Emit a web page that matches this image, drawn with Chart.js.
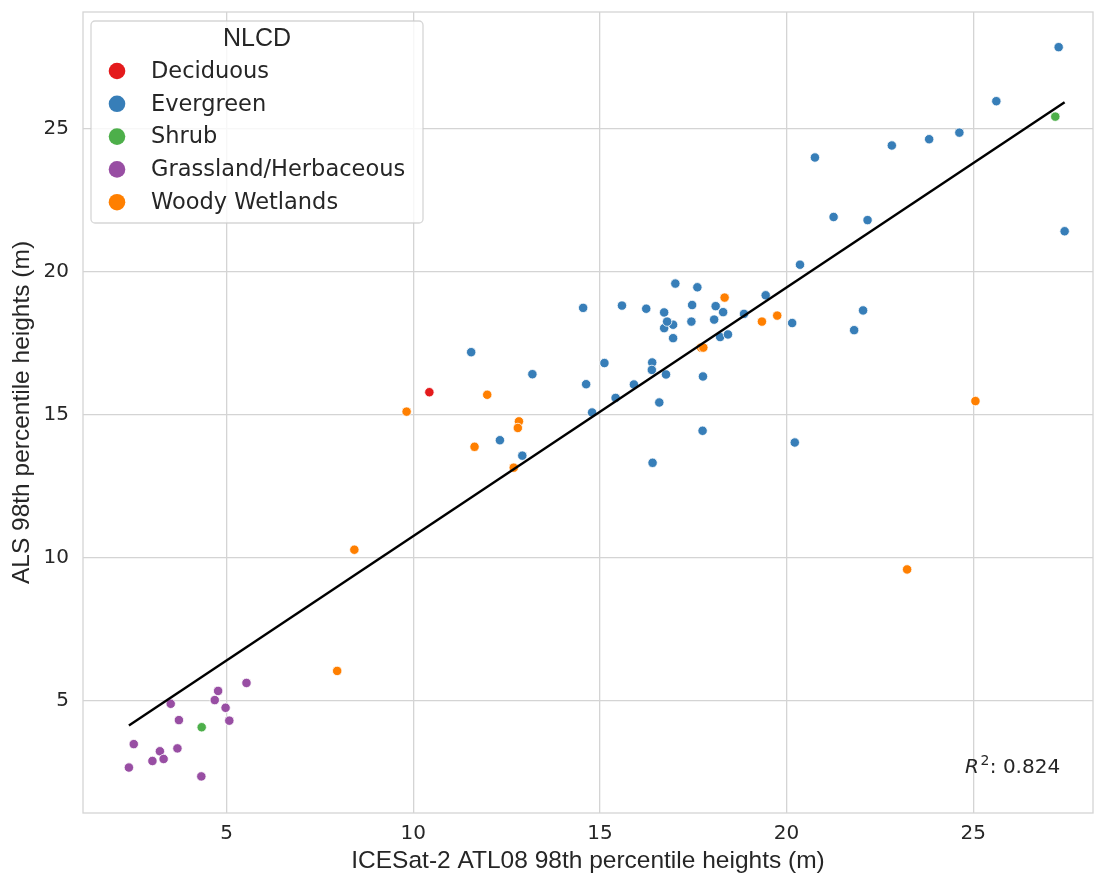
<!DOCTYPE html>
<html>
<head>
<meta charset="utf-8">
<script src="https://cdn.jsdelivr.net/npm/chart.js@4.4.1/dist/chart.umd.min.js"></script>
<style>
  html, body { margin: 0; padding: 0; background: #ffffff; }
  #wrap { width: 1105px; height: 879px; }
</style>
</head>
<body>
<div id="wrap"><canvas id="c" width="1105" height="879"></canvas></div>
<script>
// ICESat-2 ATL08 vs ALS 98th percentile canopy heights (m), grouped by NLCD class
const deciduousX = [10.43];
const deciduousY = [15.78];

const evergreenX = [11.55, 13.19, 14.79, 12.32, 12.92, 20.36, 17.02, 17.61, 19.44, 14.55,
                    15.59, 16.24, 16.72, 17.47, 18.10, 18.30, 18.86, 20.15, 21.81, 22.05,
                    17.45, 18.06, 16.96, 16.72, 16.80, 16.96, 18.22, 18.43, 15.12, 16.40,
                    16.39, 16.77, 17.76, 14.63, 15.91, 15.42, 16.59, 17.75, 20.22, 16.41,
                    27.29, 25.62, 24.63, 23.82, 22.82, 20.76, 21.26, 22.17, 27.45];
const evergreenY = [17.18, 16.41, 15.07, 14.10, 13.56, 20.24, 19.58, 19.45, 19.17, 18.73,
                    18.81, 18.70, 18.57, 18.83, 18.79, 18.58, 18.52, 18.20, 17.95, 18.64,
                    18.25, 18.32, 18.14, 18.02, 18.25, 17.67, 17.71, 17.80, 16.80, 16.82,
                    16.56, 16.40, 16.33, 16.06, 16.05, 15.58, 15.42, 14.43, 14.02, 13.31,
                    27.85, 25.96, 24.86, 24.63, 24.41, 23.99, 21.91, 21.80, 21.41];

const shrubX = [4.33, 27.20];
const shrubY = [4.06, 25.42];

const grassX = [5.53, 4.77, 4.68, 3.50, 4.97, 3.72, 5.07, 2.51, 3.21, 3.68, 3.31, 3.01, 2.38, 4.32];
const grassY = [5.61, 5.33, 5.01, 4.88, 4.74, 4.31, 4.29, 3.47, 3.22, 3.32, 2.95, 2.88, 2.65, 2.34];

const wetlandX = [7.96, 11.98, 9.82, 12.83, 12.80, 11.64, 12.69, 8.42, 18.34, 19.75,
                  19.34, 17.71, 17.77, 25.06, 23.23];
const wetlandY = [6.03, 15.69, 15.10, 14.76, 14.53, 13.87, 13.14, 10.27, 19.09, 18.46,
                  18.25, 17.34, 17.34, 15.47, 9.58];

// least-squares fit line, drawn between the smallest and largest ATL08 heights
const fitX = [2.38, 27.45];
const fitY = [4.12, 25.92];
const r2Text = '0.824';

const classNames = ['Deciduous', 'Evergreen', 'Shrub', 'Grassland/Herbaceous', 'Woody Wetlands'];
const classColors = ['#e41a1c', '#377eb8', '#4daf4a', '#984ea3', '#ff7f00'];

const xTicks = [5, 10, 15, 20, 25];
const yTicks = [5, 10, 15, 20, 25];

const TEXT = '#262626';
const GRID = '#d4d4d4';

function pts(xs, ys) { return xs.map((x, i) => ({ x: x, y: ys[i] })); }

const groups = [
  [deciduousX, deciduousY],
  [evergreenX, evergreenY],
  [shrubX, shrubY],
  [grassX, grassY],
  [wetlandX, wetlandY]
];

const datasets = groups.map((g, i) => ({
  type: 'scatter',
  label: classNames[i],
  data: pts(g[0], g[1]),
  backgroundColor: classColors[i],
  borderColor: '#ffffff',
  borderWidth: 0.8,
  pointRadius: 4.7,
  pointHoverRadius: 4.7
}));

datasets.push({
  type: 'line',
  label: 'fit',
  data: pts(fitX, fitY),
  borderColor: '#000000',
  borderWidth: 2.4,
  pointRadius: 0,
  fill: false,
  order: -1
});

// frame around the plotting area (all four spines)
const framePlugin = {
  id: 'frame',
  beforeDatasetsDraw(chart) {
    const { ctx, chartArea: a } = chart;
    ctx.save();
    ctx.strokeStyle = GRID;
    ctx.lineWidth = 1.3;
    ctx.strokeRect(a.left, a.top, a.right - a.left, a.bottom - a.top);
    ctx.restore();
  }
};

// R² annotation in the lower right corner
const r2Plugin = {
  id: 'r2',
  afterDatasetsDraw(chart) {
    const { ctx, chartArea: a } = chart;
    let x = a.right - 128;
    const base = a.bottom - 40;
    ctx.save();
    ctx.fillStyle = TEXT;
    ctx.textBaseline = 'alphabetic';
    ctx.textAlign = 'left';
    ctx.font = 'italic 20px "DejaVu Sans"';
    ctx.fillText('R', x, base);
    x += ctx.measureText('R').width + 1.5;
    ctx.font = '14px "DejaVu Sans"';
    ctx.fillText('2', x, base - 8);
    x += ctx.measureText('2').width + 0.5;
    ctx.font = '20px "DejaVu Sans"';
    ctx.fillText(': ' + r2Text, x, base);
    ctx.restore();
  }
};

// legend box in the upper left corner of the plotting area
const legendPlugin = {
  id: 'nlcdLegend',
  afterDraw(chart) {
    const { ctx, chartArea: a } = chart;
    const bx = a.left + 8, by = a.top + 9, bw = 332, bh = 202, rad = 4;
    ctx.save();
    ctx.beginPath();
    ctx.moveTo(bx + rad, by);
    ctx.lineTo(bx + bw - rad, by);
    ctx.arcTo(bx + bw, by, bx + bw, by + rad, rad);
    ctx.lineTo(bx + bw, by + bh - rad);
    ctx.arcTo(bx + bw, by + bh, bx + bw - rad, by + bh, rad);
    ctx.lineTo(bx + rad, by + bh);
    ctx.arcTo(bx, by + bh, bx, by + bh - rad, rad);
    ctx.lineTo(bx, by + rad);
    ctx.arcTo(bx, by, bx + rad, by, rad);
    ctx.closePath();
    ctx.fillStyle = 'rgba(255,255,255,0.8)';
    ctx.fill();
    ctx.strokeStyle = 'rgba(204,204,204,0.8)';
    ctx.lineWidth = 1.3;
    ctx.stroke();

    ctx.fillStyle = TEXT;
    ctx.textBaseline = 'middle';
    ctx.textAlign = 'center';
    ctx.font = '25px "Liberation Sans", Arial, sans-serif';
    ctx.fillText('NLCD', bx + bw / 2, by + 18);

    ctx.textAlign = 'left';
    ctx.font = '22.5px "DejaVu Sans"';
    chart.data.datasets.forEach((ds, i) => {
      if (ds.type !== 'scatter') return;
      const cy = by + 50 + i * 32.8;
      ctx.beginPath();
      ctx.arc(bx + 26, cy, 8.3, 0, Math.PI * 2);
      ctx.fillStyle = ds.backgroundColor;
      ctx.fill();
      ctx.fillStyle = TEXT;
      ctx.fillText(ds.label, bx + 60, cy + 1);
    });
    ctx.restore();
  }
};

new Chart(document.getElementById('c'), {
  data: { datasets: datasets },
  options: {
    responsive: false,
    animation: false,
    events: [],
    layout: { padding: { top: 12, right: 12, left: 0, bottom: 0 } },
    plugins: {
      legend: { display: false },
      tooltip: { enabled: false }
    },
    scales: {
      x: {
        type: 'linear',
        position: 'bottom',
        min: 1.15,
        max: 28.21,
        afterBuildTicks(scale) { scale.ticks = xTicks.map(v => ({ value: v })); },
        afterFit(scale) {
          scale.height = 66;
          scale.paddingLeft = 0;
          scale.paddingRight = 0;
        },
        grid: { color: GRID, lineWidth: 1.3, drawTicks: false },
        border: { display: false },
        ticks: {
          color: TEXT,
          font: { family: 'DejaVu Sans', size: 20 },
          padding: 9,
          maxRotation: 0
        },
        title: {
          display: true,
          text: 'ICESat-2 ATL08 98th percentile heights (m)',
          color: TEXT,
          font: { family: 'Liberation Sans', size: 24.5 },
          padding: { top: 0, bottom: 3 }
        }
      },
      y: {
        type: 'linear',
        position: 'left',
        min: 1.06,
        max: 29.08,
        afterBuildTicks(scale) { scale.ticks = yTicks.map(v => ({ value: v })); },
        afterFit(scale) {
          scale.width = 83;
          scale.paddingTop = 0;
          scale.paddingBottom = 0;
        },
        grid: { color: GRID, lineWidth: 1.3, drawTicks: false },
        border: { display: false },
        ticks: {
          color: TEXT,
          font: { family: 'DejaVu Sans', size: 20 },
          padding: 14
        },
        title: {
          display: true,
          text: 'ALS 98th percentile heights (m)',
          color: TEXT,
          font: { family: 'Liberation Sans', size: 24.5 },
          padding: { top: 8, bottom: 0 }
        }
      }
    }
  },
  plugins: [framePlugin, r2Plugin, legendPlugin]
});
</script>
</body>
</html>
